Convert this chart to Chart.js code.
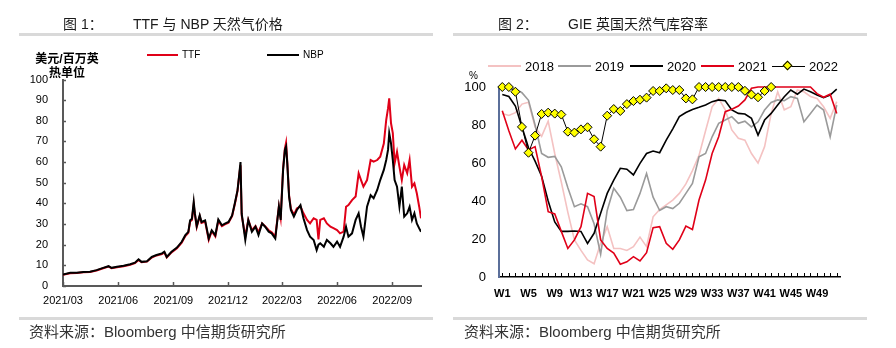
<!DOCTYPE html>
<html lang="zh">
<head>
<meta charset="UTF-8">
<title>TTF / NBP 与 GIE 英国库容率</title>
<script src="https://cdn.jsdelivr.net/npm/chart.js@4.4.0/dist/chart.umd.min.js"></script>
<style>
    * { margin: 0; padding: 0; box-sizing: border-box; }
    body {
        width: 896px; height: 348px; position: relative; overflow: hidden;
        background: #fff; font-family: "Liberation Sans", "Noto Sans CJK SC", sans-serif; color: #222;
    }
    canvas { position: absolute; top: 0; }
    .abs { position: absolute; white-space: nowrap; line-height: 1; }
    .title { top: 17px; font-size: 14px; color: #1a1a1a; }
    .rule { position: absolute; height: 3px; background: #d9d9d9; }
    .source { top: 324px; font-size: 15px; color: #333; }
    .ytitle { left: 30px; top: 53px; width: 74px; text-align: center; font-size: 12px; font-weight: bold; line-height: 13.5px; color: #000; }
    .leg { position: absolute; display: flex; align-items: center; font-family: "Liberation Sans", sans-serif; color: #000; }
    .leg .ln { height: 2px; margin-right: 4px; position: relative; }
    .dia { position: absolute; left: 12px; top: -3.5px; width: 7px; height: 7px; background: #ffff00; border: 1px solid #000; transform: rotate(45deg); }
</style>
</head>
<body>
<canvas id="left" width="440" height="348" style="left:0"></canvas>
<canvas id="right" width="456" height="348" style="left:440px"></canvas>

<div class="abs title" style="left:63px">图 1：</div>
<div class="abs title" style="left:133px">TTF 与 NBP 天然气价格</div>
<div class="abs title" style="left:498px">图 2：</div>
<div class="abs title" style="left:568px">GIE 英国天然气库容率</div>
<div class="rule" style="left:19px; top:33px; width:414px"></div>
<div class="rule" style="left:453px; top:33px; width:414px"></div>
<div class="rule" style="left:19px; top:317px; width:414px"></div>
<div class="rule" style="left:453px; top:317px; width:414px"></div>
<div class="abs source" style="left:29px">资料来源：Bloomberg 中信期货研究所</div>
<div class="abs source" style="left:464px">资料来源：Bloomberg 中信期货研究所</div>

<div class="abs ytitle">美元/百万英<br>热单位</div>
<div class="leg" style="left:147px; top:49px; font-size:10px">
    <span class="ln" style="width:31px; background:#e00018"></span><span>TTF</span>
</div>
<div class="leg" style="left:267px; top:49px; font-size:10px">
    <span class="ln" style="width:32px; background:#000"></span><span>NBP</span>
</div>

<div class="abs" style="left:469px; top:71px; font-size:10px; color:#000">%</div>
<div id="legend2"></div>

<script>
// 图1：日数（自 2021-03-01 起算）与价格，美元/百万英热单位
const days = [0,12,23,34,45,56,67,76,81,90,
    101,112,120,126,131,140,148,156,165,169,
    173,181,190,198,204,209,212,215,218,220,
    223,228,231,237,243,248,254,259,265,270,
    276,282,287,291,294,296,298,304,309,315,
    321,326,332,337,343,348,354,360,363,367,
    370,372,374,377,380,385,390,396,401,407,
    412,418,423,426,429,435,440,446,451,457,
    462,468,472,476,482,488,493,497,501,507,
    513,518,524,529,535,539,542,544,547,550,
    553,557,561,565,569,574,578,582,586,590,
    594,597]
const nbp = [5.6,6.4,6.4,6.8,6.9,7.7,8.8,9.6,8.8,9.3,
    9.8,10.5,11.3,12.9,11.7,12,14.1,15,15.8,16.6,
    14.1,16.6,18.6,21.4,24.6,26.2,31.8,32.6,40.7,35,
    29,34.2,31,31.8,23,27,24.6,32.2,29.4,30.2,
    31,34.2,40.7,46.3,54.3,60,35,22.3,32,26.3,
    28.7,24.7,30.3,28.7,26.3,25.5,23,38.4,32,56,
    65.9,67.5,59.4,43.3,36.8,33.6,36.8,39.2,32.8,27.1,
    23.9,22.3,17.4,20,20.7,19,22.3,20.7,19,21.5,
    19,23.9,28.7,23.9,25.5,32,35.2,28.7,23.9,38.4,
    44,42.5,46.5,51.3,56.2,61,65.9,74,69,61,
    51.3,48.1,38.4,48.1,33.6,35.2,38.4,32,35.2,30.3,
    27.9,26.3]
const ttf = [5.4,6.2,6.3,6.6,6.8,7.5,8.6,9.4,8.6,9.1,
    9.6,10.3,11.1,12.6,11.5,11.8,13.8,14.8,15.5,16.3,
    13.8,16.3,18.3,21,24.2,25.8,31.2,32,39.5,34.5,
    28.5,33.8,30.5,31.2,22.3,26.5,24,31.5,29,29.8,
    30.6,33.8,40.2,46,54,58.5,34.2,24,32,27,
    29,26,30.3,29,27,26,24,38.4,33,57,
    66.5,69.4,60,44,37.5,34.5,37.5,38.5,35.2,32,
    30.3,32.8,32,22.6,32,32.8,30.3,28.7,28,27.1,
    25.5,26.3,38.4,39.2,41.6,43.3,54.6,51.3,48.1,51.3,
    61,60.2,61,62.6,69,80.4,86,90.9,78.8,74,
    59.4,65,57.8,51.3,58.6,54.6,61,48.1,49.7,44.9,
    38.4,32.8]
const dateTickDays = [0, 92, 184, 275, 365, 457, 549]
const dateTickLabels = ['2021/03', '2021/06', '2021/09', '2021/12', '2022/03', '2022/06', '2022/09']

// 图2：周度库容率 %
const weeks = ['W1','W2','W3','W4','W5','W6','W7','W8','W9','W10',
    'W11','W12','W13','W14','W15','W16','W17','W18','W19','W20',
    'W21','W22','W23','W24','W25','W26','W27','W28','W29','W30',
    'W31','W32','W33','W34','W35','W36','W37','W38','W39','W40',
    'W41','W42','W43','W44','W45','W46','W47','W48','W49','W50',
    'W51','W52']
const y2018 = [86,85,86.5,91,92,79,74,82,65,50,
    34,19.5,14,9,7,17.7,26.5,15,15,14,
    16,21,16,31.7,35.5,38,40.5,44,49,56,
    64,77,89.6,94,88,77.4,73,72,65,60,
    68.6,86,97.5,88,89.6,98.4,97.5,95,94,89.6,
    83.5,92.3]
const y2019 = [100,100,99,97,93,80,65,63,63.5,58,
    47,37,38.5,37,28,12,35,46.7,42,35,
    35.5,44,54.5,42,35,37,36,38.8,44,49.3,
    63.3,65,73.8,80.9,82.6,84.4,80.9,82,79,81.7,
    87.9,91.9,93.2,92.8,94.9,94,81.7,86,90.5,87.9,
    73.8,90.5]
const y2020 = [96,95,90,79,68,61,53,40,29,24,
    24,24.2,24,17.7,23,33.6,44,51,57.2,56.7,
    53.7,59.8,65,66.3,65.4,72,78,84.4,86.6,88.2,
    89.3,90.5,92.3,93.2,92.8,87.9,86.1,85.8,83.5,74.7,
    82.6,86.1,90.5,94.9,98.4,96.2,98.9,97.5,95.8,94.4,
    95.8,98.9]
const y2021 = [87.5,77,67.4,72,66.8,68.6,52.8,34.4,33.2,24,
    15,19.5,26.5,44,42.3,19.5,15,12.6,6.7,8,
    10.7,8.4,12.8,26,26.5,17.7,14.6,19.5,26.8,25,
    40.5,51,65,73.8,87,88.3,90,93.2,99.3,100,
    100,100,100,100,100,100,100,100,96.5,94.6,
    96.2,86]
const y2022 = [100,100,97.5,79,65.4,74.4,85.8,86.5,86,85.5,
    76.5,76,77.7,78.8,72.5,68.6,84.9,88.4,87.4,91,
    92.6,93.3,94.4,97.9,97.9,99.3,98.4,98.4,94,93.5,
    100,100,100,100,100,100,100,98,96,94.6,
    97.9,100]
const yearNames = ['2018', '2019', '2020', '2021', '2022']

// 刻度画在轴内侧
const innerTicks = {
    id: 'innerTicks',
    beforeDatasetsDraw(chart, args, opts) {
        const ctx = chart.ctx
        ctx.save()
        for (const a of opts.axes || []) {
            const sc = chart.scales[a.id]
            ctx.strokeStyle = a.color
            ctx.lineWidth = a.width
            sc.ticks.forEach((t, i) => {
                const p = Math.round(sc.getPixelForTick(i)) + 0.5
                ctx.beginPath()
                if (sc.isHorizontal()) {
                    ctx.moveTo(p, sc.top)
                    ctx.lineTo(p, sc.top - a.len)
                } else {
                    ctx.moveTo(sc.right, p)
                    ctx.lineTo(sc.right + a.len, p)
                }
                ctx.stroke()
            })
        }
        ctx.restore()
    }
}

Chart.defaults.font.family = '"Liberation Sans", Arial, sans-serif'
Chart.defaults.color = '#000'

new Chart(document.getElementById('left'), {
    type: 'line',
    data: {
        datasets: [
            { label: 'TTF', data: days.map((d, i) => ({ x: d, y: ttf[i] })), borderColor: '#e00018', borderWidth: 2, order: 1 },
            { label: 'NBP', data: days.map((d, i) => ({ x: d, y: nbp[i] })), borderColor: '#000', borderWidth: 2, order: 0 }
        ]
    },
    options: {
        responsive: false,
        animation: false,
        layout: { padding: { top: 79.5, right: 19, bottom: 32, left: 0 } },
        elements: { point: { radius: 0 }, line: { tension: 0 } },
        plugins: {
            legend: { display: false },
            tooltip: { enabled: false },
            innerTicks: { axes: [
                { id: 'x', len: 4, color: '#595959', width: 1.5 },
                { id: 'y', len: 3, color: '#595959', width: 1.5 }
            ] }
        },
        scales: {
            x: {
                type: 'linear', min: 0, max: 597,
                afterBuildTicks: sc => { sc.ticks = dateTickDays.map(v => ({ value: v })) },
                afterFit: sc => { sc.height = 30 },
                grid: { display: false, drawTicks: false },
                border: { color: '#595959', width: 2 },
                ticks: {
                    autoSkip: false, maxRotation: 0, padding: 8,
                    font: { size: 11 },
                    callback: v => dateTickLabels[dateTickDays.indexOf(v)]
                }
            },
            y: {
                min: 0, max: 100,
                afterFit: sc => { sc.width = 63 },
                grid: { display: false, drawTicks: false },
                border: { color: '#595959', width: 2 },
                ticks: { stepSize: 10, padding: 15, font: { size: 11 } }
            }
        }
    },
    plugins: [innerTicks]
})

const yearColors = ['#f4c2c2', '#9a9a9a', '#000000', '#e00018', '#000000']
const yearSeries = [y2018, y2019, y2020, y2021, y2022]

new Chart(document.getElementById('right'), {
    type: 'line',
    data: {
        labels: weeks,
        datasets: yearSeries.map((s, i) => ({
            label: yearNames[i],
            data: s,
            borderColor: yearColors[i],
            borderWidth: i === 4 ? 1 : 1.6,
            order: 4 - i,
            clip: false,
            pointRadius: i === 4 ? 4.5 : 0,
            pointStyle: 'rectRot',
            pointBackgroundColor: '#ffff00',
            pointBorderColor: '#000',
            pointBorderWidth: 1
        }))
    },
    options: {
        responsive: false,
        animation: false,
        layout: { padding: { top: 87, right: 56, bottom: 41, left: 0 } },
        elements: { line: { tension: 0 } },
        plugins: {
            legend: { display: false },
            tooltip: { enabled: false },
            innerTicks: { axes: [ { id: 'x', len: 4, color: '#000', width: 1 } ] }
        },
        scales: {
            x: {
                offset: true,
                afterFit: sc => { sc.height = 30 },
                grid: { display: false, drawTicks: false },
                border: { color: '#000', width: 1.5 },
                ticks: {
                    autoSkip: false, maxRotation: 0, padding: 10,
                    font: { size: 11, weight: 'bold' },
                    callback: (v, i) => i % 4 === 0 ? weeks[i] : ''
                }
            },
            y: {
                min: 0, max: 100,
                afterFit: sc => { sc.width = 59 },
                grid: { display: false, drawTicks: false },
                border: { color: '#5b6f9a', width: 2 },
                ticks: { stepSize: 20, padding: 13, font: { size: 13 } }
            }
        }
    },
    plugins: [innerTicks]
})

// 图2 图例
const legendLeft = [488, 558, 630, 701, 772]
const legend2 = document.getElementById('legend2')
yearNames.forEach((name, i) => {
    const item = document.createElement('div')
    item.className = 'leg'
    item.style.cssText = `left:${legendLeft[i]}px; top:58px; font-size:13px; height:16px`
    const ln = document.createElement('span')
    ln.className = 'ln'
    ln.style.cssText = `width:33px; background:${yearColors[i]}; height:${i === 4 ? 1 : 2}px`
    if (i === 4) {
        const d = document.createElement('span')
        d.className = 'dia'
        ln.appendChild(d)
    }
    const tx = document.createElement('span')
    tx.textContent = name
    item.append(ln, tx)
    legend2.appendChild(item)
})
</script>
</body>
</html>
